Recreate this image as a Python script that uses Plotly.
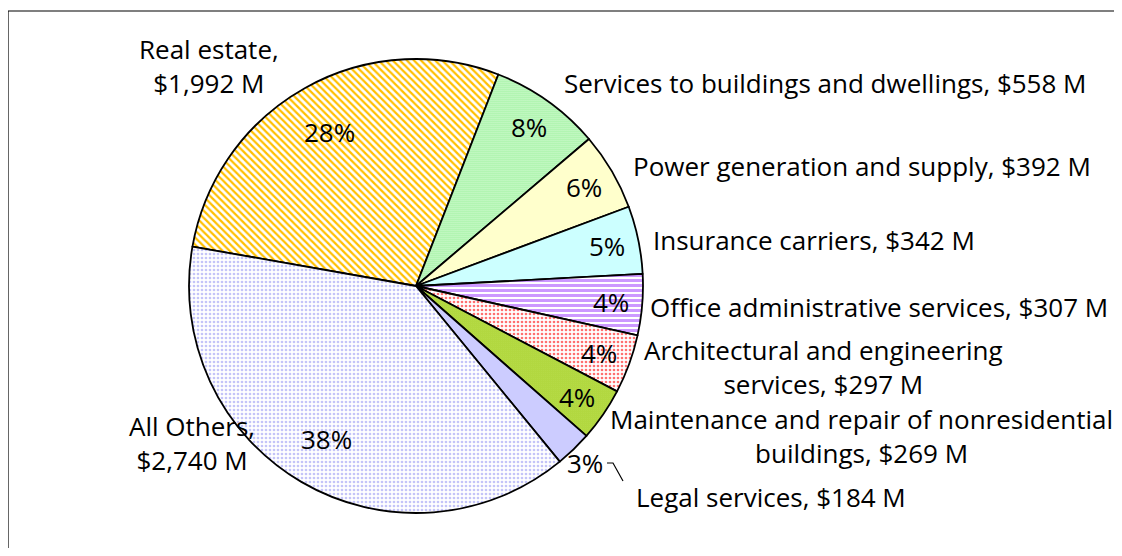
import math
import plotly.graph_objects as go

# slice data, in drawing order (clockwise)
sectors = ["Real estate", "Services to buildings and dwellings", "Power generation and supply",
           "Insurance carriers", "Office administrative services",
           "Architectural and engineering services",
           "Maintenance and repair of nonresidential buildings", "Legal services", "All Others"]
spend_musd = [1992, 558, 392, 342, 307, 297, 269, 184, 2740]
# percent labels as printed on the chart (they sum to 100)
pct_labels = ["28%", "8%", "6%", "5%", "4%", "4%", "4%", "3%", "38%"]

# outside label text (with the line breaks of the original)
label_text = ["Real estate,<br>$1,992 M", "Services to buildings and dwellings, $558 M",
              "Power generation and supply, $392 M", "Insurance carriers, $342 M",
              "Office administrative services, $307 M",
              "Architectural and engineering<br>services, $297 M",
              "Maintenance and repair of nonresidential<br>buildings, $269 M",
              "Legal services, $184 M", "All Others,<br>$2,740 M"]

OFF = 8  # page body margin
W, H = 1122 - 2 * OFF, 556 - 2 * OFF
FONT = "Open Sans"
FS = 26

# layout (screen pixels): label centres, pie centre and radius
label_pos = [(209, 66), (825, 83), (862, 166), (814, 240), (879, 307),
             (823, 367), (861, 436), (771, 497), (192, 443)]
CX, CY, R = 416, 286, 227
ROT = -80


def px(sx, sy):
    return (sx - OFF) / W, 1 - (sy - OFF) / H


shapes_ = ["\\", ".", "", "", "-", ".", ".", "", "."]
fg = ["#FFC000", "#70EE70", "#FFFFCC", "#CCFFFF", "#CC99FF", "#FF7070", "#99CC00", "#CCCCFF", "#C4C4F8"]
bg = ["white", "white", "#FFFFCC", "#CCFFFF", "white", "white", "white", "#CCCCFF", "white"]
psize = [5, 2, 8, 8, 5, 4, 2, 8, 4]
solid = [0.45, 0.55, 0.5, 0.5, 0.6, 0.35, 0.75, 0.5, 0.35]

x0, y1 = px(CX - R, CY - R)
x1, y0 = px(CX + R, CY + R)

fig = go.Figure()
fig.add_trace(go.Pie(
    labels=sectors, values=spend_musd, sort=False, direction="clockwise", rotation=ROT,
    marker=dict(colors=bg, line=dict(color="black", width=1.8),
                pattern=dict(shape=shapes_, fgcolor=fg, bgcolor=bg, size=psize, solidity=solid)),
    textinfo="none",
    domain=dict(x=[x0, x1], y=[y0, y1]),
    showlegend=False, hoverinfo="label+value+percent",
))

# percent labels at the inside end of each slice
total = sum(spend_musd)
start = ROT
for i, (v, lab) in enumerate(zip(spend_musd, pct_labels)):
    span = 360 * v / total
    mid = math.radians(start + span / 2)
    start += span
    if sectors[i] == "Legal services":
        continue
    rr = 0.78 * R if span > 60 else 0.86 * R
    ax, ay = px(CX + rr * math.sin(mid), CY - rr * math.cos(mid))
    fig.add_annotation(x=ax, y=ay, xref="paper", yref="paper", text=lab, showarrow=False,
                       xanchor="center", yanchor="middle",
                       font=dict(family=FONT, size=FS, color="black"))

# Legal services percent sits outside with a small leader line
ax, ay = px(585, 463)
fig.add_annotation(x=ax, y=ay, xref="paper", yref="paper", text=pct_labels[7],
                   showarrow=False, xanchor="center", yanchor="middle",
                   font=dict(family=FONT, size=FS, color="black"))
p1, p2, p3 = px(607, 463), px(613, 463), px(623, 481)
fig.add_shape(type="path", xref="paper", yref="paper",
              path=f"M {p1[0]} {p1[1]} L {p2[0]} {p2[1]} L {p3[0]} {p3[1]}",
              line=dict(color="black", width=1.2))

for txt, (sx, sy) in zip(label_text, label_pos):
    ax, ay = px(sx, sy)
    fig.add_annotation(x=ax, y=ay, xref="paper", yref="paper", text=txt,
                       showarrow=False, align="center", xanchor="center", yanchor="middle",
                       font=dict(family=FONT, size=FS, color="black"))

# chart frame (right and bottom edges fall outside the picture)
fx, fy = px(8, 11)
fig.add_shape(type="rect", xref="paper", yref="paper", x0=fx, y0=-0.05, x1=1.05, y1=fy,
              line=dict(color="black", width=1.2))

fig.update_layout(width=W, height=H, margin=dict(l=0, r=0, t=0, b=0),
                  paper_bgcolor="white", plot_bgcolor="white",
                  font=dict(family=FONT, size=FS, color="black"))
fig.write_html("out.html")
